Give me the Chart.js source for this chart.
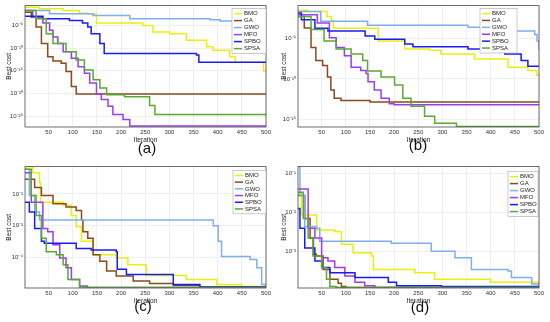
<!DOCTYPE html>
<html lang="en">
<head>
<meta charset="UTF-8">
<title>Convergence curves</title>
<script src="https://cdn.jsdelivr.net/npm/chart.js"></script>
<style>
    body {
        margin: 0;
        background: #fff;
        width: 550px;
        height: 322px;
        position: relative;
        overflow: hidden;
        font-family: Arial, "Liberation Sans", sans-serif;
    }
    canvas { position: absolute; }
    .tag {
        position: absolute;
        width: 60px;
        text-align: center;
        font-size: 15px;
        color: #111;
    }
</style>
</head>
<body>
<canvas id="chartA" width="275" height="145" style="left:0;top:0"></canvas>
<canvas id="chartB" width="275" height="145" style="left:275px;top:0"></canvas>
<canvas id="chartC" width="275" height="145" style="left:0;top:161px"></canvas>
<canvas id="chartD" width="275" height="145" style="left:275px;top:161px"></canvas>
<div class="tag" style="left:117px;top:139px">(a)</div>
<div class="tag" style="left:388px;top:136px">(b)</div>
<div class="tag" style="left:113px;top:297px">(c)</div>
<div class="tag" style="left:390px;top:298px">(d)</div>

<script>
// algorithm names, in legend order
const names = ['BMO', 'GA', 'GWO', 'MFO', 'SPBO', 'SPSA'];
const colors = ['#eaf00c', '#8b4a1c', '#80aef0', '#9b3cf0', '#1a1aff', '#5aa832'];
const xTicks = [50, 100, 150, 200, 250, 300, 350, 400, 450, 500];

// best cost per iteration, [iteration, cost] at each change
// (a)
const aBMO = [[1,1e-1],[30,4.4e-2],[80,1.9e-2],[114,4.9e-3],[130,3.5e-3],[149,3.2e-5],[245,1e-5],[266,3.5e-7],[300,1.5e-7],[335,5.4e-9],[377,1.9e-10],[390,3.5e-11],[425,1.2e-12],[436,7.1e-14],[495,9.1e-16],[500,9.1e-16]];
const aGA = [[1,8.1e-3],[14,6.6e-4],[24,4.4e-6],[35,1e-9],[48,1.2e-12],[59,1.4e-13],[76,4.4e-14],[86,6.6e-16],[97,3.5e-19],[107,7.4e-21],[500,7.4e-21]];
const aGWO = [[1,1.9e-2],[52,3.5e-3],[142,1.5e-3],[218,2.8e-4],[384,1.7e-4],[405,8.9e-5],[488,4.4e-6],[496,8.1e-7],[500,5.4e-9]];
const aMFO = [[1,1.9e-2],[17,6.6e-4],[38,3.2e-5],[52,8.1e-7],[59,2.8e-8],[69,1e-9],[80,1.5e-11],[97,5.4e-13],[111,8.1e-15],[124,2.8e-16],[135,1.9e-18],[149,7.4e-21],[159,4.4e-22],[173,1.5e-23],[183,2.3e-25],[204,1.9e-26],[218,6.6e-28],[500,6.6e-28]];
const aSPBO = [[1,1.1e-3],[38,2.8e-4],[93,1.2e-4],[120,3.2e-5],[131,4.4e-6],[138,1.5e-7],[156,1e-9],[165,6.6e-12],[356,2.8e-12],[361,7.1e-14],[500,7.1e-14]];
const aSPSA = [[1,1.9e-2],[24,2.8e-4],[45,1.5e-7],[59,1e-9],[86,1.5e-11],[107,2.3e-13],[124,1.5e-15],[142,1e-17],[156,1.5e-19],[170,5.4e-21],[207,1.9e-21],[259,2.1e-23],[270,2.3e-25],[500,2.3e-25]];
const aYTicks = [1e-5, 1e-10, 1e-15, 1e-20, 1e-25];

// (b)
const bBMO = [[1,3e-2],[21,2e-2],[61,5e-3],[70,1.3e-3],[74,1.8e-4],[167,4.7e-6],[222,5e-7],[273,3.5e-7],[297,1.2e-7],[367,2.9e-8],[436,2.8e-9],[477,1.1e-9],[495,2.8e-10],[500,2.8e-10]];
const bGA = [[1,5.0e-3],[14,1.9e-4],[28,7.4e-7],[38,1.8e-8],[52,4.5e-9],[62,1.7e-10],[69,4.3e-12],[76,4.2e-13],[90,2.2e-13],[150,1.4e-13],[500,1.4e-13]];
const bGWO = [[1,2.0e-2],[48,1.3e-3],[145,4.1e-4],[353,2.3e-4],[380,7.8e-5],[491,3.0e-5],[496,4.8e-6],[500,2.9e-7]];
const bMFO = [[1,7.9e-3],[41,7.9e-4],[66,1.2e-5],[80,7.4e-7],[97,7.3e-8],[111,2.8e-9],[131,1.1e-9],[142,4.5e-10],[146,4.4e-11],[159,4.3e-12],[173,4.2e-13],[190,8.7e-14],[200,6.5e-14],[500,6.5e-14]];
const bSPBO = [[1,1.3e-2],[8,2e-3],[36,1.8e-4],[63,8e-5],[140,2e-5],[160,7.6e-6],[222,2e-6],[239,9e-7],[353,4.7e-7],[401,2.9e-7],[429,1.2e-7],[463,1.8e-8],[477,3.7e-9],[500,3.7e-9]];
const bSPSA = [[1,5.0e-3],[28,1.2e-4],[55,4.8e-6],[80,4.7e-7],[111,1.2e-7],[135,1.8e-8],[145,9.3e-10],[173,1.7e-10],[201,1.7e-11],[218,4.2e-13],[235,4.1e-14],[263,2.5e-15],[284,3.3e-16],[329,1.3e-16],[500,1.3e-16]];
const bYTicks = [1e-5, 1e-10, 1e-15];

// (c)
const cBMO = [[1,7.2e-2],[17,4.7e-2],[31,2.3e-2],[33,5.5e-3],[80,4.4e-3],[97,2.1e-3],[107,9.2e-4],[118,3.2e-4],[142,1.2e-4],[190,9.5e-5],[214,5.9e-5],[252,2.7e-5],[335,2.0e-5],[398,1.4e-5],[450,1.2e-5],[500,1.17e-5]];
const cGA = [[1,2.9e-2],[21,1.6e-2],[35,8.9e-3],[59,4.9e-3],[86,3.9e-3],[107,3.0e-3],[118,1.5e-3],[121,6.4e-4],[131,4.0e-4],[142,1.2e-4],[156,7.5e-5],[170,3.7e-5],[190,2.6e-5],[225,1.8e-5],[259,1.5e-5],[308,1.3e-5],[363,1.17e-5],[500,1.12e-5]];
const cGWO = [[1,6.0e-2],[10,8.9e-3],[21,2.7e-3],[31,1.5e-3],[391,1.0e-3],[401,3.2e-4],[408,1.07e-4],[467,8.5e-5],[481,4.7e-5],[491,1.4e-5],[500,1.17e-5]];
const cMFO = [[1,4.7e-2],[14,5.5e-3],[38,8.2e-4],[48,6.4e-4],[59,2.5e-4],[73,9.5e-5],[86,4.7e-5],[97,2.0e-5],[114,1.26e-5],[130,1.12e-5],[500,1.12e-5]];
const cSPBO = [[1,5.5e-3],[10,2.7e-3],[21,8.2e-4],[35,3.2e-4],[41,2.8e-4],[107,1.9e-4],[138,1.7e-4],[190,1.5e-4],[192,4.2e-5],[211,2.9e-5],[308,1.4e-5],[363,1.17e-5],[500,1.12e-5]];
const cSPSA = [[1,6.0e-2],[14,8.9e-3],[24,2.1e-3],[35,4.0e-4],[45,1.5e-4],[66,1.2e-4],[80,5.9e-5],[90,2.0e-5],[114,1.17e-5],[130,1.12e-5],[500,1.12e-5]];
const cYTicks = [1e-2, 1e-3, 1e-4];

// (d)
const dBMO = [[1,3.0e-2],[8,8.5e-3],[40,3.5e-3],[77,3.2e-3],[91,1.5e-3],[115,9.1e-4],[153,7.5e-4],[157,3.4e-4],[243,2.8e-4],[284,1.9e-4],[400,1.6e-4],[500,1.38e-4]];
const dGA = [[1,2.7e-2],[15,6.9e-3],[26,2.2e-3],[33,8.3e-4],[39,7.5e-4],[53,3.4e-4],[67,1.9e-4],[84,1.5e-4],[91,1.23e-4],[100,1.17e-4],[500,1.17e-4]];
const dGWO = [[1,1.5e-1],[5,2.7e-2],[15,4.3e-3],[39,3.9e-3],[46,1.8e-3],[194,1.6e-3],[277,1.0e-3],[326,6.8e-4],[360,3.4e-4],[436,3.1e-4],[443,2.1e-4],[485,1.44e-4],[500,1.23e-4]];
const dMFO = [[1,4.0e-2],[22,3.9e-3],[36,2.2e-3],[50,6.8e-4],[63,5.6e-4],[77,3.8e-4],[98,2.3e-4],[119,1.6e-4],[139,1.3e-4],[160,1.17e-4],[500,1.17e-4]];
const dSPBO = [[1,1.25e-2],[5,3.9e-3],[15,1.2e-3],[36,5.6e-4],[50,3.8e-4],[67,2.8e-4],[119,2.1e-4],[188,1.6e-4],[205,1.3e-4],[298,1.23e-4],[500,1.17e-4]];
const dSPSA = [[1,3.3e-2],[12,6.9e-3],[22,2.2e-3],[32,7.5e-4],[50,3.8e-4],[60,1.9e-4],[67,1.23e-4],[80,1.17e-4],[500,1.17e-4]];
const dYTicks = [1e-1, 1e-2, 1e-3];

const SUP = { '-': '\u207B', '0': '\u2070', '1': '\u00B9', '2': '\u00B2', '3': '\u00B3', '4': '\u2074', '5': '\u2075', '6': '\u2076', '7': '\u2077', '8': '\u2078', '9': '\u2079' };
function powLabel(v) {
    const e = String(Math.round(Math.log10(v)));
    return '10' + e.split('').map(c => SUP[c]).join('');
}

// plot box + MATLAB style legend inside the axes
const boxLegend = {
    id: 'boxLegend',
    afterDatasetsDraw(chart, args, opts) {
        const { ctx, chartArea } = chart;
        ctx.save();
        ctx.strokeStyle = '#4a4a4a';
        ctx.lineWidth = 0.8;
        ctx.strokeRect(chartArea.left, chartArea.top, chartArea.right - chartArea.left, chartArea.bottom - chartArea.top);

        const sets = chart.data.datasets;
        const rowH = opts.rowH;
        const w = opts.width;
        const h = sets.length * rowH + 3;
        const x = chartArea.right - opts.right - w;
        const y = chartArea.top + opts.top;
        ctx.fillStyle = '#fff';
        ctx.fillRect(x, y, w, h);
        ctx.strokeStyle = '#a8a8a8';
        ctx.lineWidth = 0.6;
        ctx.strokeRect(x, y, w, h);
        ctx.font = '6px Arial';
        ctx.textBaseline = 'middle';
        sets.forEach((ds, i) => {
            const cy = y + 1.5 + rowH * i + rowH / 2;
            ctx.strokeStyle = ds.borderColor;
            ctx.lineWidth = 1.5;
            ctx.beginPath();
            ctx.moveTo(x + 2, cy);
            ctx.lineTo(x + 10, cy);
            ctx.stroke();
            ctx.fillStyle = '#222';
            ctx.fillText(ds.label, x + 12, cy);
        });
        ctx.restore();
    }
};

function makeChart(id, series, yTicks, yMin, yMax, area, legend) {
    const ctx = document.getElementById(id).getContext('2d');
    return new Chart(ctx, {
        type: 'line',
        data: {
            datasets: series.map((s, i) => ({
                label: names[i],
                data: s.map(p => ({ x: p[0], y: p[1] })),
                borderColor: colors[i],
                backgroundColor: colors[i],
                borderWidth: 1.5,
                pointRadius: 0,
                stepped: true,
                order: series.length - i
            }))
        },
        options: {
            responsive: false,
            animation: false,
            events: [],
            layout: { padding: { top: area.top, right: area.right, left: 0, bottom: 0 } },
            plugins: {
                legend: { display: false },
                tooltip: { enabled: false },
                boxLegend: legend
            },
            scales: {
                x: {
                    type: 'linear',
                    min: 1,
                    max: 500,
                    afterBuildTicks: s => { s.ticks = xTicks.map(v => ({ value: v })); },
                    afterFit: s => { s.height = 18; },
                    grid: { color: '#e6e6e6', lineWidth: 0.6, drawTicks: false },
                    border: { display: false },
                    ticks: { font: { size: 6, family: 'Arial' }, color: '#333', padding: 2, maxRotation: 0 },
                    title: { display: true, text: 'Iteration', font: { size: 6.5, family: 'Arial' }, color: '#222', padding: { top: 0, bottom: 1 } }
                },
                y: {
                    type: 'logarithmic',
                    min: yMin,
                    max: yMax,
                    afterBuildTicks: s => { s.ticks = yTicks.map(v => ({ value: v })); },
                    afterFit: s => { s.width = area.left; },
                    grid: { color: '#e6e6e6', lineWidth: 0.6, drawTicks: false },
                    border: { display: false },
                    ticks: { font: { size: 6, family: 'Arial' }, color: '#333', padding: 2, callback: v => powLabel(v) },
                    title: { display: true, text: 'Best cost', font: { size: 6.5, family: 'Arial' }, color: '#222', padding: { top: 5, bottom: 0 } }
                }
            }
        },
        plugins: [boxLegend]
    });
}

makeChart('chartA', [aBMO, aGA, aGWO, aMFO, aSPBO, aSPSA], aYTicks, 4e-28, 2.3e-1,
    { left: 25, right: 9, top: 5 }, { right: 0, top: 3, width: 34, rowH: 7 });
makeChart('chartB', [bBMO, bGA, bGWO, bMFO, bSPBO, bSPSA], bYTicks, 1.15e-16, 1.1e-1,
    { left: 23, right: 11, top: 4 }, { right: 22, top: 3, width: 37, rowH: 6.9 });
makeChart('chartC', [cBMO, cGA, cGWO, cMFO, cSPBO, cSPSA], cYTicks, 1.08e-5, 7.3e-2,
    { left: 25, right: 9, top: 4 }, { right: 0, top: 4, width: 33, rowH: 6.7 });
makeChart('chartD', [dBMO, dGA, dGWO, dMFO, dSPBO, dSPSA], dYTicks, 1.13e-4, 1.5e-1,
    { left: 23, right: 11, top: 4 }, { right: 1, top: 5, width: 30, rowH: 7 });
</script>
</body>
</html>
